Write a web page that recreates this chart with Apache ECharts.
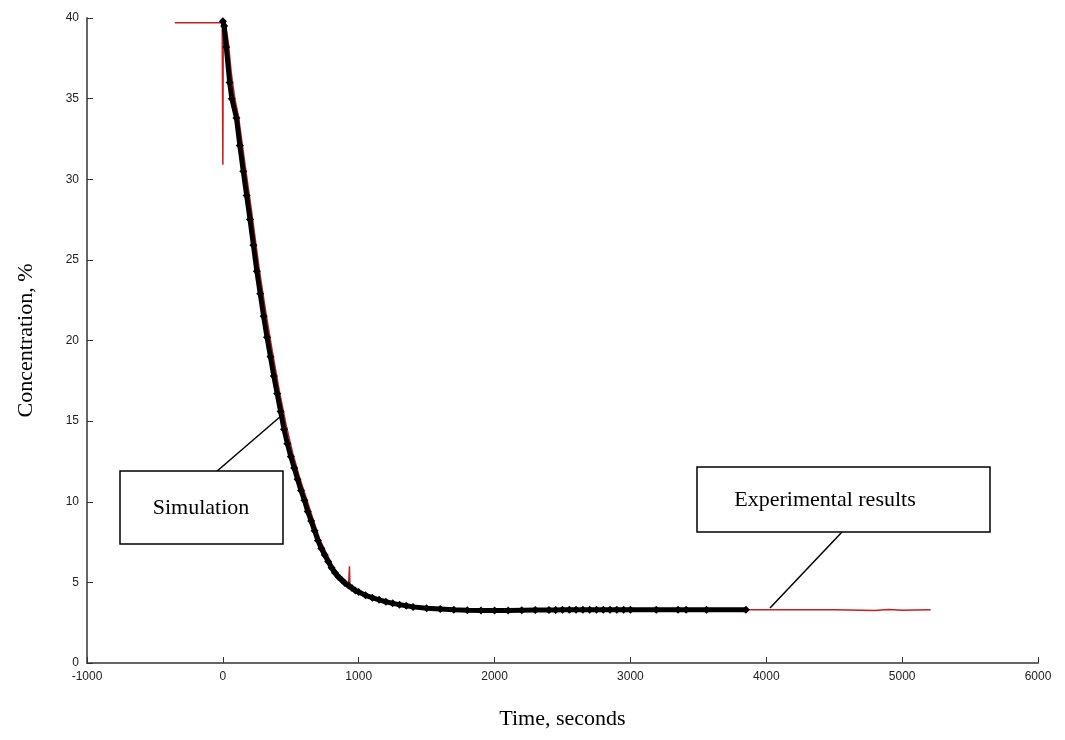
<!DOCTYPE html>
<html>
<head>
<meta charset="utf-8">
<script src="https://cdn.jsdelivr.net/npm/echarts@6/dist/echarts.min.js"></script>
<style>
html,body{margin:0;padding:0;background:#fff;}
#chart{width:1065px;height:740px;}
</style>
</head>
<body>
<div id="chart"></div>
<script>
// simulation (black line with diamonds)
var simTime = [0, 10, 25, 50, 66, 100, 125, 150, 175, 200, 225, 250, 275, 300, 325, 350, 375, 400, 425, 450, 475, 500, 525, 550, 575, 600, 625, 650, 675, 700, 725, 750, 775, 800, 825, 850, 875, 900, 925, 950, 975, 1000, 1050, 1100, 1150, 1200, 1250, 1300, 1350, 1400, 1500, 1600, 1700, 1800, 1900, 2000, 2100, 2200, 2300, 2400, 2450, 2500, 2550, 2600, 2650, 2700, 2750, 2800, 2850, 2900, 2950, 3000, 3190, 3350, 3410, 3560, 3850];
var simConc = [39.8, 39.5, 38.2, 36.0, 35.0, 33.8, 32.1, 30.5, 29.0, 27.5, 25.9, 24.3, 22.9, 21.5, 20.2, 19.0, 17.8, 16.7, 15.6, 14.5, 13.6, 12.8, 12.1, 11.4, 10.7, 10.1, 9.4, 8.8, 8.2, 7.6, 7.1, 6.7, 6.3, 5.9, 5.6, 5.35, 5.15, 4.95, 4.8, 4.65, 4.5, 4.4, 4.2, 4.05, 3.92, 3.8, 3.7, 3.62, 3.55, 3.48, 3.4, 3.35, 3.3, 3.27, 3.25, 3.25, 3.26, 3.27, 3.28, 3.29, 3.29, 3.3, 3.3, 3.3, 3.3, 3.3, 3.3, 3.3, 3.3, 3.3, 3.3, 3.3, 3.3, 3.3, 3.3, 3.3, 3.3];
// experimental (thin red line)
var expTime = [-354, -5, 0, 3, 18, 40, 62, 88, 115, 165, 215, 265, 315, 365, 415, 465, 515, 565, 615, 665, 712, 762, 810, 858, 905, 925, 932, 936, 945, 965, 1005, 1100, 1200, 1300, 1400, 1500, 1600, 1800, 2000, 2500, 3000, 3500, 4000, 4500, 4800, 4900, 5000, 5210];
var expConc = [39.7, 39.7, 30.9, 39.7, 39.6, 38.5, 36.6, 35.0, 33.9, 30.8, 27.8, 24.6, 21.8, 19.3, 16.9, 14.8, 13.0, 11.5, 10.2, 8.9, 7.7, 6.8, 6.0, 5.4, 5.0, 4.8, 6.0, 4.6, 4.7, 4.6, 4.45, 4.1, 3.85, 3.65, 3.5, 3.42, 3.36, 3.28, 3.25, 3.28, 3.3, 3.3, 3.3, 3.3, 3.25, 3.32, 3.27, 3.3];

var xTicks = [-1000, 0, 1000, 2000, 3000, 4000, 5000, 6000];
var yTicks = [0, 5, 10, 15, 20, 25, 30, 35, 40];

var simData = [], expData = [];
for (var i = 0; i < simTime.length; i++) simData.push([simTime[i], simConc[i]]);
for (var j = 0; j < expTime.length; j++) expData.push([expTime[j], expConc[j]]);

var myChart = echarts.init(document.getElementById('chart'));
var tickLabel = {fontFamily: 'Liberation Sans', fontSize: 12, color: '#222', formatter: function (v) { return String(v); }};
var serif = 'Liberation Serif';

var option = {
  animation: false,
  grid: {left: 87, right: 27, top: 18, bottom: 77},
  xAxis: {
    type: 'value', min: xTicks[0], max: xTicks[xTicks.length - 1], interval: 1000,
    axisLine: {onZero: false, lineStyle: {color: '#666', width: 2}},
    axisTick: {inside: true, length: 6, lineStyle: {color: '#333'}},
    axisLabel: tickLabel,
    splitLine: {show: false},
    name: 'Time, seconds', nameLocation: 'middle', nameGap: 45,
    nameTextStyle: {fontFamily: serif, fontSize: 22, color: '#000'}
  },
  yAxis: {
    type: 'value', min: yTicks[0], max: yTicks[yTicks.length - 1], interval: 5,
    axisLine: {onZero: false, lineStyle: {color: '#666', width: 2}},
    axisTick: {inside: true, length: 6, lineStyle: {color: '#333'}},
    axisLabel: tickLabel,
    splitLine: {show: false},
    name: 'Concentration, %', nameLocation: 'middle', nameGap: 50,
    nameTextStyle: {fontFamily: serif, fontSize: 22, color: '#000'}
  },
  series: [
    {
      name: 'Simulation', type: 'line', data: simData,
      symbol: 'diamond', symbolSize: 8, showAllSymbol: true,
      itemStyle: {color: '#000'},
      lineStyle: {color: '#000', width: 5}
    },
    {
      name: 'Experimental results', type: 'line', data: expData,
      symbol: 'none', z: 1,
      lineStyle: {color: '#c81e1e', width: 1.5}
    }
  ],
  graphic: [
    {type: 'line', shape: {x1: 216, y1: 472, x2: 281, y2: 416}, style: {stroke: '#000', lineWidth: 1.5}},
    {type: 'rect', shape: {x: 120, y: 471, width: 163, height: 73}, style: {fill: '#fff', stroke: '#000', lineWidth: 1.5}},
    {type: 'text', x: 201, y: 508, style: {text: 'Simulation', font: '22px "Liberation Serif"', fill: '#000', align: 'center', verticalAlign: 'middle'}},
    {type: 'line', shape: {x1: 842, y1: 532, x2: 770, y2: 608}, style: {stroke: '#000', lineWidth: 1.5}},
    {type: 'rect', shape: {x: 697, y: 467, width: 293, height: 65}, style: {fill: '#fff', stroke: '#000', lineWidth: 1.5}},
    {type: 'text', x: 825, y: 500, style: {text: 'Experimental results', font: '22px "Liberation Serif"', fill: '#000', align: 'center', verticalAlign: 'middle'}}
  ]
};
myChart.setOption(option);
</script>
</body>
</html>
